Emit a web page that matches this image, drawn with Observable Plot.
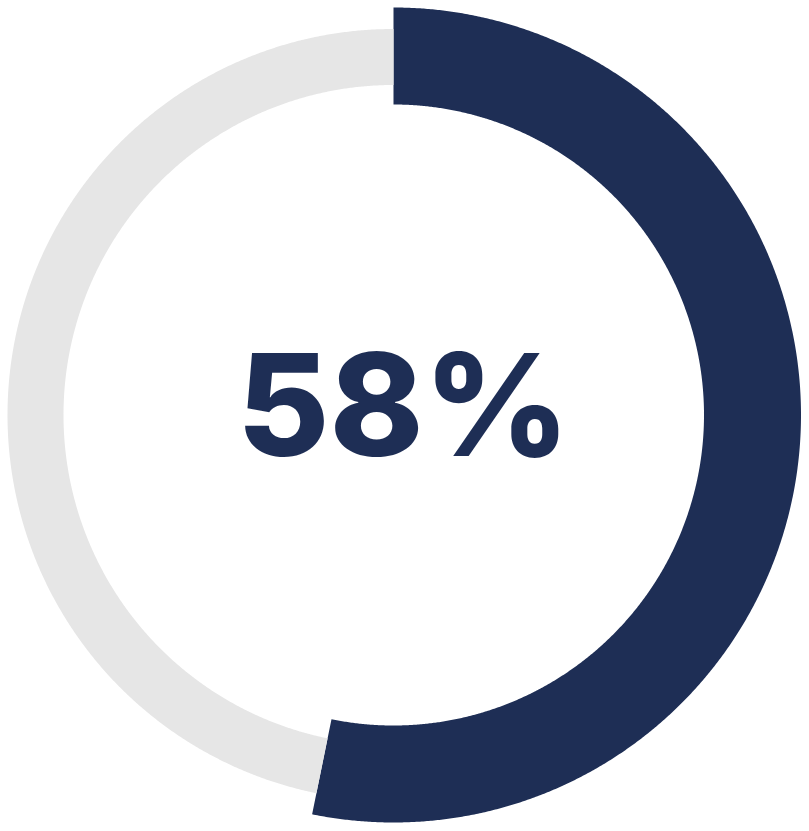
<!DOCTYPE html>
<html>
<head>
<meta charset="utf-8">
<script src="https://cdn.jsdelivr.net/npm/d3@7"></script>
<script src="https://cdn.jsdelivr.net/npm/@observablehq/plot@0.6"></script>
<style>
  html, body { margin: 0; padding: 0; background: #ffffff; }
  #chart svg { display: block; }
</style>
</head>
<body>
<div id="chart"></div>
<script>
// ---- data ----
const segments = ["filled", "remaining"];
const shares = [53.2, 46.8];          // share of the ring each arc covers
const colors = ["#1e2e55", "#e6e6e6"];
const labelText = ["58%"];

// ---- geometry (in plot units = pixels) ----
const ringOuter = [407.5, 386];
const ringInner = [310.5, 330];

const rows = [];
let cum = 0;
segments.forEach((name, i) => {
  const a0 = cum / 100 * 2 * Math.PI;
  const a1 = (cum + shares[i]) / 100 * 2 * Math.PI;
  cum += shares[i];
  const n = Math.max(2, Math.ceil((a1 - a0) / (Math.PI / 720)));
  const angs = d3.range(n + 1).map(k => a0 + (a1 - a0) * k / n);
  angs.forEach(a => rows.push({seg: name, x: ringOuter[i] * Math.sin(a), y: ringOuter[i] * Math.cos(a)}));
  angs.slice().reverse().forEach(a => rows.push({seg: name, x: ringInner[i] * Math.sin(a), y: ringInner[i] * Math.cos(a)}));
});

const chart = Plot.plot({
  width: 809,
  height: 831,
  margin: 0,
  x: {domain: [-393, 416], axis: null},
  y: {domain: [-416.5, 414.5], axis: null},
  color: {domain: segments, range: colors},
  style: {background: "#ffffff"},
  marks: [
    Plot.line(rows, {x: "x", y: "y", z: "seg", fill: "seg", stroke: "none", curve: "linear"}),
    Plot.text(labelText, {
      x: () => 10, y: () => 4, text: d => d,
      fill: colors[0], fontSize: 142, fontWeight: 800,
      fontFamily: "Inter, Lato, sans-serif",
      textAnchor: "middle", lineAnchor: "middle"
    })
  ]
});
document.getElementById("chart").appendChild(chart);
</script>
</body>
</html>
